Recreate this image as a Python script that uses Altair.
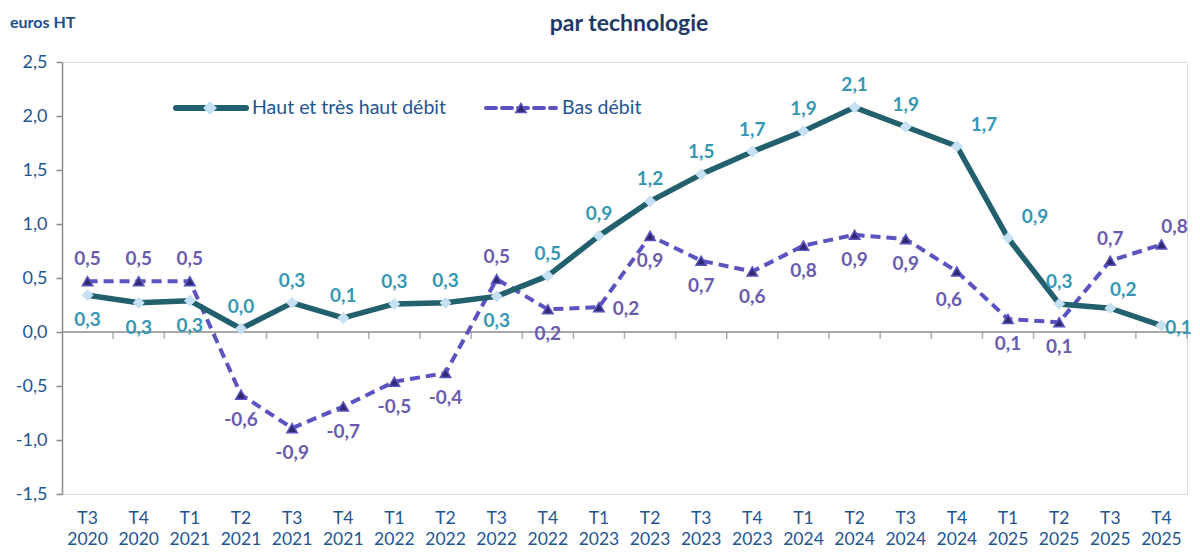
import altair as alt
import pandas as pd

periods = ["T3 2020", "T4 2020", "T1 2021", "T2 2021", "T3 2021", "T4 2021",
           "T1 2022", "T2 2022", "T3 2022", "T4 2022", "T1 2023", "T2 2023",
           "T3 2023", "T4 2023", "T1 2024", "T2 2024", "T3 2024", "T4 2024",
           "T1 2025", "T2 2025", "T3 2025", "T4 2025"]

haut = [0.34, 0.27, 0.29, 0.03, 0.27, 0.13, 0.26, 0.27, 0.33, 0.52, 0.89, 1.21,
        1.46, 1.67, 1.86, 2.08, 1.90, 1.72, 0.87, 0.26, 0.22, 0.06]
bas = [0.47, 0.47, 0.47, -0.58, -0.89, -0.69, -0.46, -0.38, 0.49, 0.21, 0.23, 0.89,
       0.66, 0.56, 0.80, 0.90, 0.86, 0.56, 0.12, 0.09, 0.66, 0.81]

# label placement codes (a = above, b = below, r = right, ar = above right, ...)
haut_place = ["b", "b", "b", "a", "a", "a", "a", "a", "b", "a", "a", "a",
              "a", "a", "a", "a", "a", "ar", "ar", "a", "ar2", "r2"]
bas_place = ["a", "a", "a", "b", "b", "b", "b", "b", "a", "b", "r", "b",
             "b", "b", "b", "b", "b", "bl", "b", "b", "a", "ar2"]

series_names = ["Haut et très haut débit", "Bas débit"]
y_ticks = [-1.5, -1.0, -0.5, 0.0, 0.5, 1.0, 1.5, 2.0, 2.5]

TEAL = "#22606e"
DIAMOND = "#c6e0f4"
PURPLE = "#5b53c0"
TRI = "#2e2a70"
HAUT_LBL = "#3597b3"
BAS_LBL = "#6a5bae"
AXIS_TXT = "#1f5591"
GREY = "#8c8c8c"
FONT = "Lato"

rows = []
for i, p in enumerate(periods):
    rows.append({"period": p, "serie": "haut", "value": haut[i], "place": haut_place[i]})
    rows.append({"period": p, "serie": "bas", "value": bas[i], "place": bas_place[i]})
df = pd.DataFrame(rows)

W, H = 1125, 432

x_scale = alt.Scale(type="band", domain=periods, paddingInner=0, paddingOuter=0)
x_axis = alt.Axis(title=None, domain=False, ticks=False, labelAngle=0,
                  labelExpr="split(datum.label, ' ')", labelFont=FONT,
                  labelFontSize=17.5, labelColor=AXIS_TXT, labelPadding=15,
                  labelLineHeight=21)
y_scale = alt.Scale(domain=[-1.5, 2.5], nice=False, zero=False)
y_axis = alt.Axis(title=None, values=y_ticks, grid=False, domainColor=GREY,
                  domainWidth=1.5, tickColor=GREY, tickWidth=1.5, tickSize=6,
                  labelExpr="replace(replace(format(datum.value, '.1f'), '.', ','), '\u2212', '-')",
                  labelFont=FONT, labelFontSize=18, labelColor=AXIS_TXT, labelPadding=9)


def X(band=0.5):
    return alt.X("period:N", sort=periods, scale=x_scale, axis=x_axis, bandPosition=band)


Y = alt.Y("value:Q", scale=y_scale, axis=y_axis)

zero_df = pd.DataFrame({"value": [0.0]})
zero_rule = alt.Chart(zero_df).mark_rule(color=GREY, strokeWidth=1.5).encode(y=Y)

tick_df = pd.DataFrame({"period": periods, "value": [0.0] * len(periods)})
ticks = alt.Chart(tick_df).mark_tick(orient="vertical", size=7, thickness=1.5,
                                     color=GREY, yOffset=3.5).encode(x=X(1.0), y=Y)

base = alt.Chart(df)
haut_line = base.transform_filter("datum.serie == 'haut'").mark_line(
    color=TEAL, strokeWidth=5.5, strokeJoin="round").encode(x=X(), y=Y)
bas_line = base.transform_filter("datum.serie == 'bas'").mark_line(
    color=PURPLE, strokeWidth=4, strokeDash=[10, 6]).encode(x=X(), y=Y)
haut_pts = base.transform_filter("datum.serie == 'haut'").mark_point(
    shape="diamond", filled=True, size=120, fill=DIAMOND, opacity=1,
    stroke=DIAMOND, strokeWidth=1).encode(x=X(), y=Y)
bas_pts = base.transform_filter("datum.serie == 'bas'").mark_point(
    shape="triangle-up", filled=True, size=110, fill=TRI, opacity=1,
    stroke=PURPLE, strokeWidth=1.5).encode(x=X(), y=Y)

offsets = {
    "a": (0, -22),
    "b": (0, 25),
    "r": (27, 2),
    "r2": (17, 2),
    "ar": (27, -21),
    "ar2": (13, -18),
    "bl": (-8, 28),
}

label_layers = []
for serie, col in (("haut", HAUT_LBL), ("bas", BAS_LBL)):
    for code, (dx, dy) in offsets.items():
        label_layers.append(
            base.transform_filter(f"datum.serie == '{serie}' && datum.place == '{code}'")
            .transform_calculate(
                lbl="replace(replace(format(datum.value, '.1f'), '.', ','), '\u2212', '-')")
            .mark_text(font=FONT, fontSize=19, fontWeight="bold", color=col,
                       dx=dx, dy=dy, align="center", baseline="middle")
            .encode(x=X(), y=Y, text="lbl:N")
        )

# legend (manual, inside plot area)
leg_df = pd.DataFrame({"name": series_names})
leg_haut = leg_df.iloc[[0]]
leg_bas = leg_df.iloc[[1]]
LY = 46
legend = [
    alt.Chart(leg_haut).mark_rule(color=TEAL, strokeWidth=6, strokeCap="round").encode(
        x=alt.value(114), x2=alt.value(184), y=alt.value(LY)),
    alt.Chart(leg_haut).mark_point(shape="diamond", filled=True, size=120, fill=DIAMOND,
                                   opacity=1, stroke=DIAMOND).encode(
        x=alt.value(148), y=alt.value(LY)),
    alt.Chart(leg_haut).mark_text(font=FONT, fontSize=19.5, color=AXIS_TXT, align="left",
                                  baseline="middle").encode(
        x=alt.value(190), y=alt.value(LY), text="name:N"),
    alt.Chart(leg_bas).mark_rule(color=PURPLE, strokeWidth=4, strokeDash=[10, 6],
                                 strokeCap="round").encode(
        x=alt.value(424), x2=alt.value(494), y=alt.value(LY)),
    alt.Chart(leg_bas).mark_point(shape="triangle-up", filled=True, size=110, fill=TRI,
                                  opacity=1, stroke=PURPLE, strokeWidth=1.5).encode(
        x=alt.value(459), y=alt.value(LY)),
    alt.Chart(leg_bas).mark_text(font=FONT, fontSize=19.5, color=AXIS_TXT, align="left",
                                 baseline="middle").encode(
        x=alt.value(500), y=alt.value(LY), text="name:N"),
]

title_df = pd.DataFrame({"t": ["par technologie"]})
title = alt.Chart(title_df).mark_text(font=FONT, fontSize=23, fontWeight="bold",
                                      color="#1f3864", align="center",
                                      baseline="alphabetic").encode(
    x=alt.value(567), y=alt.value(-31), text="t:N")
unit_df = pd.DataFrame({"t": ["euros HT"]})
unit = alt.Chart(unit_df).mark_text(font=FONT, fontSize=16, fontWeight="bold",
                                    color="#1f4e8c", align="left",
                                    baseline="middle").encode(
    x=alt.value(-52), y=alt.value(-39), text="t:N")

chart = alt.layer(
    zero_rule, ticks, bas_line, haut_line, bas_pts, haut_pts, *label_layers,
    *legend, title, unit
).properties(
    width=W, height=H,
    autosize=alt.AutoSizeParams(type="none"),
    padding={"left": 54, "top": 54, "right": 5, "bottom": 54},
).configure_view(stroke=None).configure(background="white")

chart.save("out.html", embed_options={"renderer": "svg", "actions": False})
